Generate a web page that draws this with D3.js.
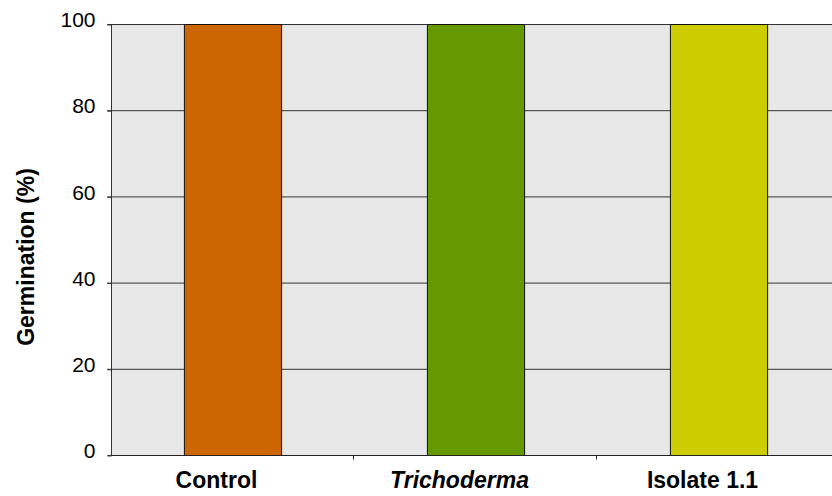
<!DOCTYPE html>
<html>
<head>
<meta charset="utf-8">
<script src="https://cdn.jsdelivr.net/npm/d3@7"></script>
<style>
  body { margin: 0; background: #fff; }
  svg { display: block; font-family: "Liberation Sans", Arial, sans-serif; }
</style>
</head>
<body>
<svg id="chart" width="832" height="496"></svg>
<script>
const categories = ["Control", "Trichoderma", "Isolate 1.1"];
const germination = [100, 100, 100];
const barColors = ["#cc6600", "#669900", "#cccc00"];
const yTicks = [0, 20, 40, 60, 80, 100];

const svg = d3.select("#chart");
const plotLeft = 111, plotTop = 24, plotBottom = 455, step = 243;

const x = d3.scaleBand()
    .domain(categories)
    .range([plotLeft, plotLeft + step * categories.length]);
const y = d3.scaleLinear().domain([0, 100]).range([plotBottom, plotTop]);

// plot background
svg.append("rect")
    .attr("x", plotLeft).attr("y", plotTop)
    .attr("width", 832 - plotLeft).attr("height", plotBottom - plotTop)
    .attr("fill", "#e8e8e8");

// gridlines
svg.append("g").selectAll("line")
    .data(yTicks.filter(d => d > 0))
    .enter().append("line")
    .attr("x1", plotLeft - 4).attr("x2", 832)
    .attr("y1", d => y(d) + 0.5).attr("y2", d => y(d) + 0.5)
    .attr("stroke", "#333").attr("stroke-width", 1);

// y axis
const yAxis = svg.append("g")
    .attr("transform", `translate(${plotLeft + 0.5},0.5)`)
    .call(d3.axisLeft(y).tickValues(yTicks).tickSize(4).tickPadding(12));
yAxis.select(".domain").attr("stroke", "#333").attr("d", `M-4,${plotBottom}H0V${plotTop}`);
yAxis.selectAll(".tick line").attr("stroke", "#333");
yAxis.selectAll(".tick text")
    .attr("font-size", 21).attr("fill", "#000").attr("dy", "0.1em")
    .attr("font-family", "Liberation Sans, Arial, sans-serif");

// bars
const barW = x.bandwidth() * 0.4;
svg.append("g").selectAll("rect")
    .data(categories)
    .enter().append("rect")
    .attr("x", d => x(d) + (x.bandwidth() - barW) / 2 + 0.5)
    .attr("y", (d, i) => y(germination[i]) + 0.5)
    .attr("width", barW)
    .attr("height", (d, i) => y(0) - y(germination[i]))
    .attr("fill", (d, i) => barColors[i])
    .attr("stroke", "#111").attr("stroke-width", 1);

// x axis
const xAxis = svg.append("g")
    .attr("transform", `translate(0,${plotBottom + 0.5})`);
xAxis.append("line")
    .attr("x1", plotLeft).attr("x2", 832)
    .attr("stroke", "#222");
xAxis.selectAll(".xtick")
    .data(d3.range(1, categories.length))
    .enter().append("line")
    .attr("x1", i => Math.round(x(categories[i])) - 0.5)
    .attr("x2", i => Math.round(x(categories[i])) - 0.5)
    .attr("y1", 0).attr("y2", 4)
    .attr("stroke", "#222");
xAxis.selectAll("text")
    .data(categories)
    .enter().append("text")
    .attr("x", d => x(d) + x.bandwidth() / 2 - 16)
    .attr("y", 32.5)
    .attr("text-anchor", "middle")
    .attr("font-size", 23).attr("font-weight", "bold")
    .attr("font-style", d => d === "Trichoderma" ? "italic" : "normal")
    .text(d => d);

// y title
svg.append("text")
    .attr("transform", "translate(34,257) rotate(-90)")
    .attr("text-anchor", "middle")
    .attr("font-size", 23).attr("font-weight", "bold")
    .text("Germination (%)");
</script>
</body>
</html>
